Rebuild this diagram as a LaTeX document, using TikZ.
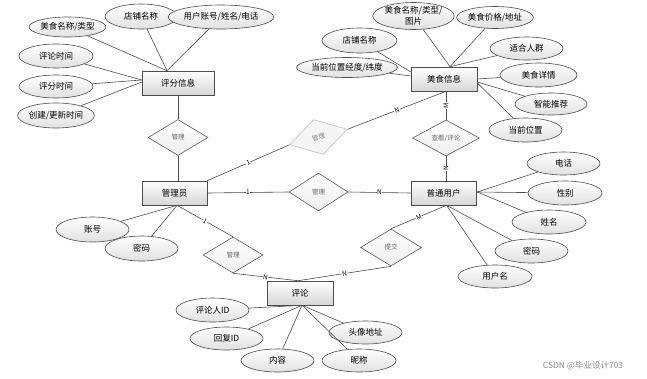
\documentclass[tikz,border=0pt]{standalone}
\usepackage{fontspec}
\setmainfont{Noto Sans CJK SC}
\usetikzlibrary{shapes.geometric,calc}
\begin{document}
\begin{tikzpicture}[x=1pt,y=-1pt,
  ent/.style={draw=black!70, line width=0.6pt, top color=white, bottom color=black!16,
    minimum height=24pt, inner sep=0pt, font=\fontsize{8.5}{10}\selectfont},
  attr/.style={ellipse, draw=black!70, line width=0.6pt, top color=white, bottom color=black!12,
    inner sep=0pt, font=\fontsize{8.5}{11}\selectfont, align=center},
  dia/.style={diamond, draw=black!65, line width=0.6pt, top color=white, bottom color=black!7,
    inner sep=0pt, minimum width=60pt, minimum height=36pt, text=black!60,
    font=\fontsize{6.5}{7}\selectfont},
  faint/.style={diamond, draw=black!25, line width=0.6pt, fill=black!4,
    inner sep=0pt, minimum width=60pt, minimum height=36pt, text=black!50,
    font=\fontsize{6.5}{7}\selectfont},
  link/.style={draw=black!70, line width=0.6pt},
  lab/.style={fill=white, inner sep=0.6pt, font=\fontsize{6.5}{7}\selectfont}
]
\fill[white] (0,0) rectangle (647,378);
\useasboundingbox (0,0) rectangle (647,378);

% entities
\node[ent, minimum width=72pt] (rating) at (178,83) {评分信息};
\node[ent, minimum width=66pt] (food) at (444,79) {美食信息};
\node[ent, minimum width=65pt] (admin) at (174.5,193) {管理员};
\node[ent, minimum width=65pt] (user) at (443.5,193) {普通用户};
\node[ent, minimum width=66pt] (comment) at (300,293) {评论};

% relationships
\node[dia] (d1) at (178,137.5) {管理};
\node[faint, rotate=15] (d2) at (318.5,137) {管理};
\node[dia, minimum width=59pt, minimum height=38pt] (d3) at (318.5,192) {管理};
\node[dia, minimum width=67pt] (d4) at (446,138) {查看/评论};
\node[dia] (d5) at (233,255) {管理};
\node[dia, minimum width=61pt, minimum height=37pt] (d6) at (391,247.5) {提交};

% connection points
\coordinate (rT) at ($(rating.north)+(-11,0)$);
\coordinate (rL1) at ($(rating.west)+(0,-3)$);
\coordinate (rL2) at ($(rating.west)+(0,-1)$);
\coordinate (fT) at ($(food.north)+(6,0)$);
\coordinate (fL1) at ($(food.west)+(0,-7)$);
\coordinate (fL2) at ($(food.west)+(0,-3)$);
\coordinate (fR2) at ($(food.east)+(0,3)$);
\coordinate (fR3) at ($(food.east)+(0,4)$);
\coordinate (fB) at ($(food.south)+(2,0)$);
\coordinate (uR) at ($(user.east)+(1,-1)$);
\coordinate (uB) at ($(user.south)+(3,0)$);
\coordinate (uT) at ($(user.north)+(2.5,0)$);
\coordinate (aB) at ($(admin.south)+(2.5,0)$);
\coordinate (aT) at ($(admin.north)+(3.5,0)$);
\coordinate (cB) at ($(comment.south)+(2,0)$);
\coordinate (cT) at ($(comment.north)+(-2,0)$);

% relationship connectors
\draw[link] (d1.north) -- (d1.north |- rating.south);
\draw[link] (d1.south) -- (aT);
\draw[link] (admin.north east) -- node[lab, sloped]{1} (d2.west);
\draw[link] (d2.east) -- node[lab, sloped]{N} (fB);
\draw[link] (admin.east) -- node[lab]{1} (d3.west);
\draw[link] (d3.east) -- node[lab]{N} (user.west);
\draw[link] (fB) -- node[lab, rotate=90]{M} (d4.north);
\draw[link] (uT) -- node[lab, rotate=90]{N} (d4.south);
\draw[link] (aB) -- node[lab, sloped]{1} (d5.north);
\draw[link] (d5.south) -- node[lab, sloped]{N} (cT);
\draw[link] (uB) -- node[lab, sloped]{M} (d6.north);
\draw[link] (d6.south) -- node[lab, sloped]{N} (cT);

% attributes of 评分信息
\node[attr, minimum width=72pt, minimum height=20pt] (a1) at (67.5,27) {美食名称/类型};
\node[attr, minimum width=72pt, minimum height=25pt] (a2) at (141,16.5) {店铺名称};
\node[attr, minimum width=85pt, minimum height=24pt] (a3) at (221,17) {用户账号/姓名/电话};
\node[attr, minimum width=74pt, minimum height=24pt] (a4) at (56,56) {评论时间};
\node[attr, minimum width=74pt, minimum height=23pt] (a5) at (56,86.5) {评分时间};
\node[attr, minimum width=76pt, minimum height=25pt] (a6) at (56,115.5) {创建/更新时间};
\draw[link] (a1) -- (rT);
\draw[link] (a2) -- (rT);
\draw[link] (a3) -- (rT);
\draw[link] (a4) -- (rL1);
\draw[link] (a5) -- (rL1);
\draw[link] (a6) -- (rL2);

% attributes of 美食信息
\node[attr, minimum width=74pt, minimum height=27pt] (b1) at (413.5,16) {美食名称/类型/\\图片};
\node[attr, minimum width=76pt, minimum height=22pt] (b2) at (495,17.5) {美食价格/地址};
\node[attr, minimum width=75pt, minimum height=25pt] (b3) at (359.5,40.5) {店铺名称};
\node[attr, minimum width=80pt, minimum height=20pt] (b4) at (347,67.5) {当前位置经度/纬度};
\node[attr, minimum width=73pt, minimum height=23pt] (b5) at (526.5,48.5) {适合人群};
\node[attr, minimum width=77pt, minimum height=24pt] (b6) at (538.5,75) {美食详情};
\node[attr, minimum width=72pt, minimum height=22pt] (b7) at (551,104) {智能推荐};
\node[attr, minimum width=73pt, minimum height=24pt] (b8) at (525.5,130) {当前位置};
\draw[link] (b1) -- (fT);
\draw[link] (b2) -- (fT);
\draw[link] (b5) -- (fT);
\draw[link] (b3) -- (fL1);
\draw[link] (b4) -- (fL2);
\draw[link] (b6) -- (food.east);
\draw[link] (b7) -- (fR2);
\draw[link] (b8) -- (fR3);

% attributes of 普通用户
\node[attr, minimum width=73pt, minimum height=23pt] (c1) at (563.5,163.5) {电话};
\node[attr, minimum width=74pt, minimum height=24pt] (c2) at (565,193) {性别};
\node[attr, minimum width=74pt, minimum height=24pt] (c3) at (549,222) {姓名};
\node[attr, minimum width=73pt, minimum height=24pt] (c4) at (531.5,251) {密码};
\node[attr, minimum width=74pt, minimum height=23pt] (c5) at (495,276.5) {用户名};
\draw[link] (c1) -- (uR);
\draw[link] (c2) -- (uR);
\draw[link] (c3) -- (uR);
\draw[link] (c4) -- (uB);
\draw[link] (c5) -- (uB);

% attributes of 管理员
\node[attr, minimum width=73pt, minimum height=25pt] (e1) at (92.5,229.5) {账号};
\draw[link] (e1) -- (aB);
\node[attr, minimum width=73pt, minimum height=25pt] (e2) at (141.5,248.5) {密码};
\draw[link] (e2) -- (aB);

% attributes of 评论
\node[attr, minimum width=73pt, minimum height=24pt] (f1) at (212.5,310) {评论人ID};
\node[attr, minimum width=73pt, minimum height=23pt] (f2) at (226.5,338.5) {回复ID};
\node[attr, minimum width=73pt, minimum height=23pt] (f3) at (277.5,360.5) {内容};
\node[attr, minimum width=73pt, minimum height=23pt] (f4) at (365.5,332.5) {头像地址};
\node[attr, minimum width=74pt, minimum height=23pt] (f5) at (359,360.5) {昵称};
\draw[link] (f1) -- (cB);
\draw[link] (f2) -- (cB);
\draw[link] (f3) -- (cB);
\draw[link] (f4) -- (cB);
\draw[link] (f5) -- (cB);

% watermark
\node[text=black!45, font=\fontsize{8.5}{9}\selectfont] (wm) at (583,366) {CSDN @毕业设计703};
\end{tikzpicture}
\end{document}
